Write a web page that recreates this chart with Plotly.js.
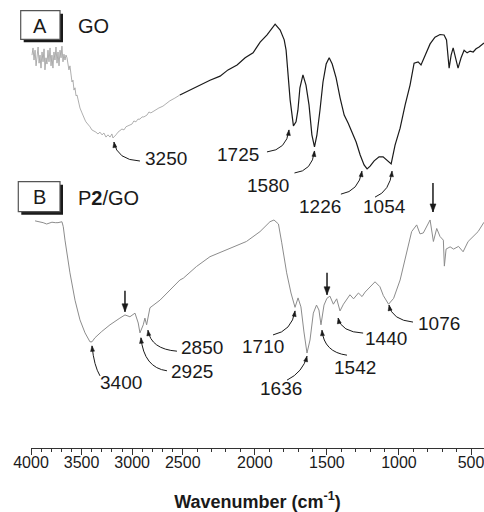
<!DOCTYPE html>
<html><head><meta charset="utf-8">
<script src="https://cdn.plot.ly/plotly-3.0.1.min.js"></script>
<style>html,body{margin:0;padding:0;background:#fff}#chart{width:484px;height:512px}</style>
</head><body><div id="chart"></div>
<script>
// ---- data (wavenumber in cm-1, transmittance in arbitrary %) ----
const goWavenumber = [3990,3980,3970,3960,3950,3940,3930,3920,3911,3901,3891,3881,3871,3862,3852,3842,3832,3822,3812,3802,3793,3783,3773,3763,3753,3743,3733,3723,3713,3703,3694,3684,3674,3664,3654,
 3644,3625,3615,3605,3595,3585,3575,3565,3555,3545,3536,3516,3496,3486,3466,3457,3437,3417,3398,3378,3358,3338,3318,3298,3279,3259,3239,3219,3200,3190,3170,3160,3140,3121,3101,3081,3061,3042,3022,3002,2983,2963,2943,2923,2903,2884,2854,2834,2815,2775,2736,2696,2657,2627,2578,2528,
 2449,2380,2311,2241,2186,2123,2067,2012,1963,1915,1887,1859,1824,1796,1783,1769,1755,1732,1714,1701,1687,1666,1645,1624,1604,1586,1569,1548,1527,1505,1484,1463,1436,1408,1380,1352,1325,1297,1269,1242,1221,1200,1172,1138,1110,1082,1054,1027,992,957,923,895,867,847,819,784,750,715,687,670,652,638,624,611,590,569,548,527,506,485,465,444,423,410];
const goSignal = [87.7,89.3,86.6,88.8,85.3,88.4,89.5,85.9,87.7,84.8,88.4,86.2,89.1,84.4,87.1,85.7,88.8,86.2,89.3,85.3,87.7,84.8,88.4,86.6,89.5,85.9,88.4,85.3,88.8,87.1,89.7,86.2,87.9,86.6,87.7,
 87.1,84.4,85.3,82.6,81.7,82.1,79.9,80.4,78.6,78.8,77.7,75.9,74.8,74.1,73.2,72.8,72.3,71.7,71.0,70.8,70.5,70.1,70.5,69.9,70.3,69.4,69.9,69.4,70.1,69.2,69.6,69.9,70.5,70.8,71.2,71.0,71.7,71.9,72.1,72.3,73.0,72.8,73.4,73.4,73.9,73.9,74.3,75.0,74.8,75.4,75.9,76.3,77.0,77.5,78.1,78.8,
 79.9,81.0,82.1,83.0,84.4,85.5,87.1,88.2,90.6,92.2,93.5,94.6,93.3,91.1,88.8,83.3,77.7,71.9,72.8,75.4,80.4,83.3,81.0,76.6,69.9,67.2,69.9,75.4,81.7,85.7,87.1,85.7,82.6,78.1,74.3,72.5,70.3,68.3,65.4,63.2,62.3,62.9,64.1,65.0,65.0,64.3,63.4,67.6,71.4,76.6,81.0,85.9,86.2,85.5,87.7,90.2,91.7,92.3,92.2,91.1,84.8,87.7,89.3,87.7,84.8,87.1,88.8,88.2,88.6,88.4,89.1,89.5,90.0,90.4];

const p2goWavenumber = [3960,3930,3911,3880,3845,3820,3793,3760,3733,3694,3681,3664,3647,3615,3565,3516,3466,3417,3397,3368,3301,3219,3121,3071,3022,2972,2940,2923,2890,2874,2857,2824,2725,2626,2528,2496,2405,2311,2172,2058,1964,1895,1867,1836,1813,1779,1749,1721,1700,1680,1659,1638,1617,1594,1572,1555,1541,1520,1500,1479,1455,1432,1409,1385,1340,1315,1281,1256,1235,1201,1166,1132,1108,1072,1037,992,957,912,877,854,831,807,784,761,738,715,692,685,673,645,621,587,555,520,485,451,410];
const p2goSignal = [50.7,50.6,50.4,50.3,50.0,50.2,50.4,50.3,50.3,50.5,49.4,46.4,43.5,39.1,33.0,28.6,25.7,23.7,23.7,24.6,26.0,27.5,29.0,29.7,29.3,30.1,27.9,25.7,27.5,29.0,27.5,31.3,33.0,35.3,37.5,37.9,40.5,42.7,44.6,46.1,48.3,50.5,50.9,50.0,45.8,39.1,34.6,31.4,33.5,31.5,25.9,21.2,24.1,30.1,31.9,30.8,27.5,31.9,33.4,33.9,32.1,33.3,30.6,32.1,34.2,33.3,34.6,33.8,34.8,36.0,37.1,36.0,34.0,32.1,33.4,37.5,42.0,48.3,49.8,47.8,48.0,49.4,50.9,46.1,49.0,47.2,46.4,40.6,44.4,44.9,44.4,45.0,43.8,46.1,47.2,48.3,50.4];

const majorTicks = [4000,3500,3000,2500,2000,1500,1000,500];
const majorTickText = ['4000','3500','3000','2500','2000','1500','1000','500'];
const minorTicks = [3900,3800,3700,3600,3400,3300,3200,3100,2900,2800,2700,2600,2400,2300,2200,2100,1900,1800,1700,1600,1400,1300,1200,1100,900,800,700,600];

// peak labels: text, wavenumber and level of the pointed spot
const peakText = ['3250','1725','1580','1226','1054','3400','2925','2850','1710','1636','1542','1440','1076'];
const peakWn   = [3180,1763,1586,1257,1048,3397,2913,2844,1721,1638,1534,1422,1069];
const peakLvl  = [68.3,71.0,66.3,61.8,61.8,22.8,24.6,26.3,30.6,20.5,26.3,29.0,31.9];
// vertical marker arrows
const markWn  = [3071,1499,764];
const markLvl = [30.4,34.2,52.7];

// ---- layout helpers (pixel offsets of label, leader tail and curve control) ----
const labelOff = [[52,16],[-51,25],[-46,35],[-42,35],[-8,35],[29,37],[51,34],[54,17],[-32,36],[-26,32],[33,37],[48,20],[50,18]];
const tailOff  = [[26,19],[-22,22],[-20,22],[-21,23],[-17,26],[8,30],[26,33],[29,21],[-22,24],[-20,24],[25,25],[25,15],[24,17]];
const ctrlOff  = [[3,18],[-2,20],[-2,20],[-3,20],[-2,20],[2,20],[3,30],[3,19],[-3,20],[-4,16],[2,22],[3,14],[3,15]];
const markLen  = [21,22,29];

const BREAK = 2500, K = 1.425;
function u(w){ return w >= BREAK ? 4000 - w : (4000 - BREAK) + (BREAK - w) * K; }
const PX = px => (px - 31) / 453, PY = py => (448 - py) / 448;

const ink = '#1a1a1a';
function leader(wn, lvl, tail, ctrl, headLen, headW, lw){
  const base = {type:'path', xref:'x', yref:'y', xsizemode:'pixel', ysizemode:'pixel', xanchor:u(wn), yanchor:lvl, layer:'above'};
  const path = `M${tail[0]},${-tail[1]} Q${ctrl[0]},${-ctrl[1]} 0,0`;
  let dx = -ctrl[0], dy = -ctrl[1]; const m = Math.hypot(dx, dy); dx /= m; dy /= m;
  const bx = -dx * headLen, by = -dy * headLen, nx = -dy * headW / 2, ny = dx * headW / 2;
  const head = `M0,0 L${bx+nx},${-(by+ny)} L${bx-nx},${-(by-ny)} Z`;
  return [Object.assign({}, base, {path, line:{color:ink, width:lw}}),
          Object.assign({}, base, {path:head, fillcolor:ink, line:{color:ink, width:0.5}})];
}

const shapes = [];
const annotations = [];
peakText.forEach((t, i) => {
  shapes.push(...leader(peakWn[i], peakLvl[i], tailOff[i], ctrlOff[i], 5.5, 4, 1));
  annotations.push({xref:'x', yref:'y', x:u(peakWn[i]), y:peakLvl[i], xshift:labelOff[i][0], yshift:-labelOff[i][1],
    text:t, showarrow:false, xanchor:'center', yanchor:'middle', font:{size:19, color:ink}});
});
markWn.forEach((w, i) => {
  shapes.push(...leader(w, markLvl[i], [0, -markLen[i]], [0, -markLen[i] / 2], 8, 6, 1.5));
});

// boxed panel labels with drop shadow
function panelBox(x0, y0, x1, y1){
  shapes.push({type:'rect', xref:'paper', yref:'paper', x0:PX(x0+3), x1:PX(x1+3), y0:PY(y1+3), y1:PY(y0+3), fillcolor:ink, line:{width:0}});
  shapes.push({type:'rect', xref:'paper', yref:'paper', x0:PX(x0), x1:PX(x1), y0:PY(y1), y1:PY(y0), fillcolor:'#fff', line:{color:'#555', width:1.2}});
}
panelBox(20.7, 10.7, 60, 39.3);
panelBox(18.3, 181.7, 60, 211.7);
annotations.push({xref:'paper', yref:'paper', x:PX(40.4), y:PY(25.5), text:'A', showarrow:false, xanchor:'center', yanchor:'middle', font:{size:20, color:ink}});
annotations.push({xref:'paper', yref:'paper', x:PX(76), y:PY(26.5), text:'GO', showarrow:false, xanchor:'left', yanchor:'middle', font:{size:20, color:ink}});
annotations.push({xref:'paper', yref:'paper', x:PX(39.3), y:PY(196.5), text:'B', showarrow:false, xanchor:'center', yanchor:'middle', font:{size:20, color:ink}});
annotations.push({xref:'paper', yref:'paper', x:PX(76), y:PY(198), text:'P<b>2</b>/GO', showarrow:false, xanchor:'left', yanchor:'middle', font:{size:20, color:ink}});

// split GO curve into lighter noisy part and dark part
const splitIdx = goWavenumber.indexOf(2528);
const traces = [
  {x:goWavenumber.slice(0, splitIdx+1).map(u), y:goSignal.slice(0, splitIdx+1), mode:'lines', line:{color:'#9a9a9a', width:0.8}, hoverinfo:'skip'},
  {x:goWavenumber.slice(splitIdx).map(u), y:goSignal.slice(splitIdx), mode:'lines', line:{color:'#1a1a1a', width:1.2}, hoverinfo:'skip'},
  {x:p2goWavenumber.map(u), y:p2goSignal, xaxis:'x2', mode:'lines', line:{color:'#8c8c8c', width:1}, hoverinfo:'skip'}
];

const xRange = [u(4000), u(410)];
const layout = {
  width:484, height:512, margin:{l:31, r:0, t:0, b:64}, showlegend:false,
  paper_bgcolor:'#fff', plot_bgcolor:'#fff',
  font:{family:'"Liberation Sans", Arial, sans-serif', color:ink},
  xaxis:{range:xRange, showgrid:false, zeroline:false, showline:true, linecolor:'#333', linewidth:1,
    ticks:'', tickmode:'array', tickvals:majorTicks.map(u), ticktext:majorTickText, tickfont:{size:16, color:ink},
    ticklabeloverflow:'allow',
    title:{text:'<b>Wavenumber (cm<sup>-1</sup>)</b>', font:{size:18, color:ink}, standoff:35}, fixedrange:true},
  xaxis2:{range:xRange, overlaying:'x', anchor:'y', side:'bottom', showgrid:false, zeroline:false, showline:false,
    ticks:'outside', ticklen:6, tickwidth:1, tickcolor:'#333', tickmode:'array', tickvals:majorTicks.map(u), showticklabels:false,
    minor:{tickmode:'array', tickvals:minorTicks.map(u), ticks:'outside', ticklen:3, tickwidth:1, tickcolor:'#333', showgrid:false},
    fixedrange:true},
  yaxis:{range:[0, 100], visible:false, fixedrange:true},
  shapes, annotations
};
Plotly.newPlot('chart', traces, layout, {staticPlot:true, displayModeBar:false});
</script></body></html>
